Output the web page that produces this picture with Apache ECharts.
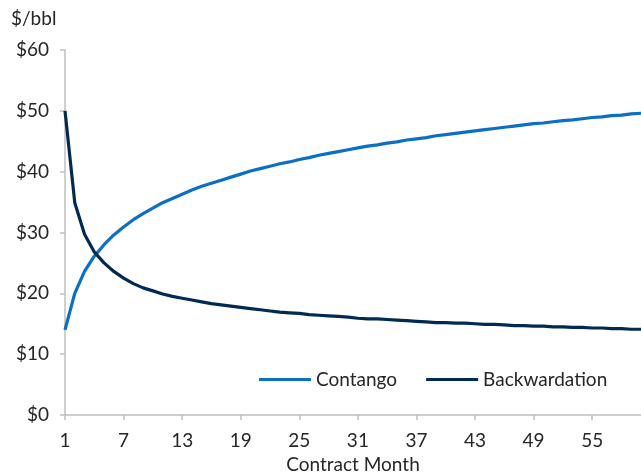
<!DOCTYPE html>
<html>
<head>
<meta charset="utf-8">
<script src="https://cdn.jsdelivr.net/npm/echarts@6/dist/echarts.min.js"></script>
<style>
  html, body { margin: 0; padding: 0; background: #fff; }
  #chart { width: 641px; height: 473px; }
</style>
</head>
<body>
<div id="chart"></div>
<script>
const months = []
for (let i = 1; i <= 60; i++) months.push(String(i))

const contango = [
  14.0, 20.0, 23.6, 26.1, 28.0, 29.6, 30.9, 32.1, 33.1, 34.0,
  34.9, 35.6, 36.3, 37.0, 37.6, 38.1, 38.6, 39.1, 39.6, 40.1,
  40.5, 40.9, 41.3, 41.6, 42.0, 42.3, 42.7, 43.0, 43.3, 43.6,
  43.9, 44.2, 44.4, 44.7, 44.9, 45.2, 45.4, 45.6, 45.9, 46.1,
  46.3, 46.5, 46.7, 46.9, 47.1, 47.3, 47.5, 47.7, 47.9, 48.0,
  48.2, 48.4, 48.5, 48.7, 48.9, 49.0, 49.2, 49.3, 49.5, 49.6
]

const backwardation = [
  50.0, 34.9, 29.7, 26.8, 25.0, 23.6, 22.5, 21.6, 20.9, 20.4,
  19.9, 19.5, 19.2, 18.9, 18.6, 18.3, 18.1, 17.9, 17.7, 17.5,
  17.3, 17.1, 16.9, 16.8, 16.7, 16.5, 16.4, 16.3, 16.2, 16.1,
  15.9, 15.8, 15.8, 15.7, 15.6, 15.5, 15.4, 15.3, 15.2, 15.2,
  15.1, 15.1, 15.0, 14.9, 14.9, 14.8, 14.7, 14.7, 14.6, 14.6,
  14.5, 14.5, 14.4, 14.4, 14.3, 14.3, 14.2, 14.2, 14.1, 14.1
]

const font = 'Lato, "Open Sans", sans-serif'
const fs = 19
const textColor = '#262626'
const axisColor = '#bfbfbf'

const myChart = echarts.init(document.getElementById('chart'))
myChart.setOption({
  animation: false,
  textStyle: { fontFamily: font },
  title: {
    text: '$/bbl',
    left: 6,
    top: 4,
    textStyle: { fontSize: fs, fontWeight: 'normal', color: textColor, fontFamily: font }
  },
  legend: {
    left: 254,
    top: 365,
    icon: 'rect',
    itemWidth: 52,
    itemHeight: 3,
    itemGap: 29,
    textStyle: { fontSize: fs, color: textColor, fontFamily: font },
    data: ['Contango', 'Backwardation']
  },
  grid: { left: 65, right: 0, top: 50, bottom: 58, containLabel: false, outerBoundsMode: 'none' },
  xAxis: {
    type: 'category',
    data: months,
    boundaryGap: false,
    name: 'Contract Month',
    nameLocation: 'middle',
    nameGap: 39,
    nameTextStyle: { fontSize: fs, color: textColor, fontFamily: font },
    axisLine: { lineStyle: { color: axisColor, width: 1.5 } },
    axisTick: { interval: 5, length: 5, lineStyle: { color: axisColor, width: 1.5 } },
    axisLabel: { interval: 5, fontSize: fs, color: textColor, margin: 16, fontFamily: font },
    splitLine: { show: false }
  },
  yAxis: {
    type: 'value',
    min: 0,
    max: 60,
    interval: 10,
    axisLine: { show: true, lineStyle: { color: axisColor, width: 1.5 } },
    axisTick: { show: true, length: 5, lineStyle: { color: axisColor, width: 1.5 } },
    axisLabel: { formatter: '${value}', fontSize: fs, color: textColor, margin: 16, fontFamily: font },
    splitLine: { show: false }
  },
  series: [
    {
      name: 'Contango',
      type: 'line',
      data: contango,
      showSymbol: false,
      symbol: 'none',
      lineStyle: { color: '#0b6fc6', width: 3.2 },
      itemStyle: { color: '#0b6fc6' }
    },
    {
      name: 'Backwardation',
      type: 'line',
      data: backwardation,
      showSymbol: false,
      symbol: 'none',
      lineStyle: { color: '#002a54', width: 3.2 },
      itemStyle: { color: '#002a54' }
    }
  ]
})
</script>
</body>
</html>
